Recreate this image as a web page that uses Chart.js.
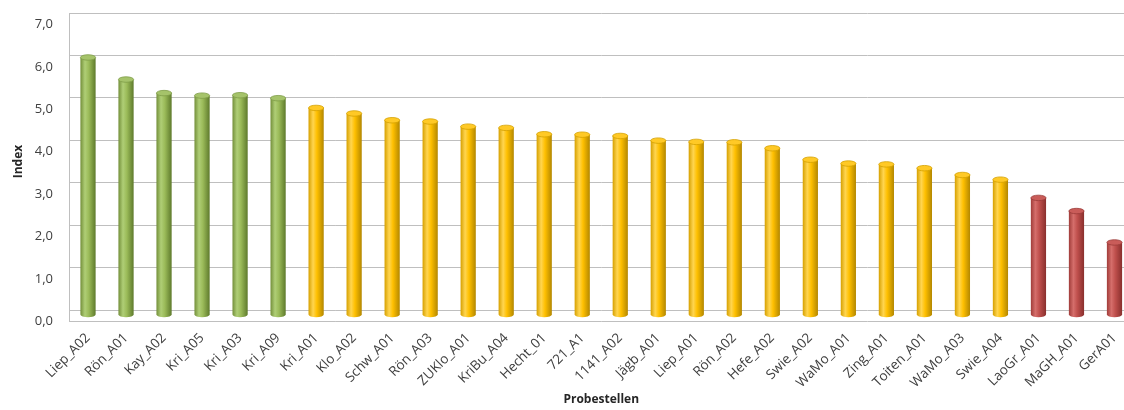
<!DOCTYPE html>
<html>
<head>
<meta charset="utf-8">
<script src="https://cdn.jsdelivr.net/npm/chart.js@4.4.1/dist/chart.umd.min.js"></script>
<style>
  html, body { margin: 0; padding: 0; background: #fff; overflow: hidden; }
  #wrap { width: 1140px; height: 410px; position: relative; }
</style>
</head>
<body>
<div id="wrap"><canvas id="indexChart"></canvas></div>
<script>
// --- data ---
const stations = ['Liep_A02', 'Rön_A01', 'Kay_A02', 'Kri_A05', 'Kri_A03', 'Kri_A09',
  'Kri_A01', 'Klo_A02', 'Schw_A01', 'Rön_A03', 'ZUKlo_A01', 'KriBu_A04', 'Hecht_01',
  '721_A1', '1141_A02', 'Jägb_A01', 'Liep_A01', 'Rön_A02', 'Hefe_A02', 'Swie_A02',
  'WaMo_A01', 'Zing_A01', 'Toiten_A01', 'WaMo_A03', 'Swie_A04',
  'LaoGr_A01', 'MaGH_A01', 'GerA01'];
const indexValues = [6.07, 5.55, 5.23, 5.17, 5.18, 5.11,
  4.88, 4.75, 4.59, 4.56, 4.44, 4.41, 4.26,
  4.25, 4.22, 4.11, 4.08, 4.07, 3.93, 3.66,
  3.57, 3.55, 3.46, 3.30, 3.19,
  2.76, 2.45, 1.71];
const classes = ['g', 'g', 'g', 'g', 'g', 'g',
  'y', 'y', 'y', 'y', 'y', 'y', 'y', 'y', 'y', 'y', 'y', 'y', 'y', 'y',
  'y', 'y', 'y', 'y', 'y',
  'r', 'r', 'r'];
const yTicks = [0, 1, 2, 3, 4, 5, 6, 7];

// cylinder shading per class
const palettes = {
  g: { stops: ['#738F3A', '#AFCE76', '#9BBB59', '#5E7A2C'], top: '#A5C36A', rim: '#7F9D47' },
  y: { stops: ['#D6A000', '#FFD550', '#FFC000', '#B38700'], top: '#FFC926', rim: '#D4A100' },
  r: { stops: ['#A03C39', '#D56E6B', '#C0504D', '#892F2D'], top: '#C95C59', rim: '#9B3B39' }
};

const gridGray = '#BFBFBF';
const floorDepth = 11;

// floor + left wall edge of the pseudo 3D box
const floorPlugin = {
  id: 'floor',
  beforeDatasetsDraw(chart) {
    const { ctx, chartArea: a } = chart;
    ctx.save();
    ctx.strokeStyle = gridGray;
    ctx.lineWidth = 1;
    ctx.beginPath();
    ctx.moveTo(a.left, a.bottom + floorDepth + 0.5);
    ctx.lineTo(a.right, a.bottom + floorDepth + 0.5);
    ctx.moveTo(a.left + 0.5, a.bottom);
    ctx.lineTo(a.left + 0.5, a.bottom + floorDepth);
    ctx.stroke();
    ctx.restore();
  }
};

// draws each bar as a shaded cylinder using the bar element geometry
const cylinderPlugin = {
  id: 'cylinders',
  afterDatasetsDraw(chart) {
    const ctx = chart.ctx;
    const meta = chart.getDatasetMeta(0);
    const shift = 5;
    meta.data.forEach((bar, i) => {
      const { x, y, base, width } = bar.getProps(['x', 'y', 'base', 'width'], true);
      const p = palettes[classes[i]];
      const left = x - width / 2;
      const top = y + shift;
      const bottom = base + shift;
      const ry = width * 0.18;

      const g = ctx.createLinearGradient(left, 0, left + width, 0);
      g.addColorStop(0, p.stops[0]);
      g.addColorStop(0.3, p.stops[1]);
      g.addColorStop(0.55, p.stops[2]);
      g.addColorStop(1, p.stops[3]);

      ctx.save();
      ctx.fillStyle = g;
      ctx.beginPath();
      ctx.moveTo(left, top);
      ctx.lineTo(left, bottom);
      ctx.ellipse(x, bottom, width / 2, ry, 0, Math.PI, 0, true);
      ctx.lineTo(left + width, top);
      ctx.closePath();
      ctx.fill();

      ctx.beginPath();
      ctx.ellipse(x, top, width / 2, ry, 0, 0, Math.PI * 2);
      ctx.fillStyle = p.top;
      ctx.fill();
      ctx.strokeStyle = p.rim;
      ctx.lineWidth = 0.8;
      ctx.stroke();
      ctx.restore();
    });
  }
};

const ctx = document.getElementById('indexChart').getContext('2d');

new Chart(ctx, {
  type: 'bar',
  data: {
    labels: stations,
    datasets: [{
      label: 'Index',
      data: indexValues,
      backgroundColor: 'rgba(0,0,0,0)',
      borderWidth: 0,
      categoryPercentage: 1,
      barPercentage: 0.4
    }]
  },
  options: {
    responsive: true,
    maintainAspectRatio: false,
    animation: false,
    events: [],
    layout: { padding: { top: 13, right: 6.5, left: 0, bottom: 0 } },
    plugins: {
      legend: { display: false },
      tooltip: { enabled: false }
    },
    scales: {
      x: {
        grid: { display: false },
        border: { display: false },
        ticks: {
          color: '#404040',
          font: { family: 'Open Sans', size: 13.5 },
          minRotation: 45,
          maxRotation: 45,
          autoSkip: false,
          padding: 12
        },
        title: {
          display: true,
          text: 'Probestellen',
          color: '#262626',
          font: { family: 'Open Sans', size: 12, weight: 'bold' },
          padding: { top: 0, bottom: 3 }
        },
        afterFit: (scale) => { scale.height = 100; }
      },
      y: {
        min: 0,
        max: 7,
        afterBuildTicks: (scale) => { scale.ticks = yTicks.map(v => ({ value: v })); },
        // invisible ticks keep the labels away from the wall without adding top padding
        grid: { color: gridGray, drawTicks: true, tickLength: 16, tickColor: 'rgba(0,0,0,0)' },
        border: { color: gridGray },
        ticks: {
          color: '#404040',
          font: { family: 'Open Sans', size: 13 },
          padding: 0,
          labelOffset: 11.5,
          callback: (v) => v.toFixed(1).replace('.', ',')
        },
        title: {
          display: true,
          text: 'Index',
          color: '#262626',
          font: { family: 'Open Sans', size: 12, weight: 'bold' },
          padding: { top: 11, bottom: 0 }
        },
        afterFit: (scale) => { scale.width = 69; }
      }
    }
  },
  plugins: [floorPlugin, cylinderPlugin]
});
</script>
</body>
</html>
